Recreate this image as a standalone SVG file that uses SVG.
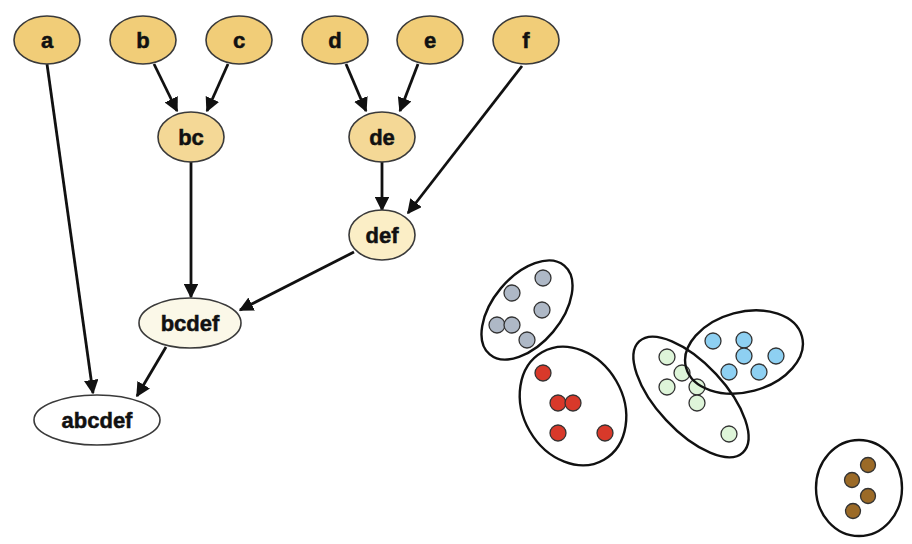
<svg xmlns="http://www.w3.org/2000/svg" width="912" height="544" viewBox="0 0 912 544">
<style>
.n{stroke:#3a3a3a;stroke-width:1.6}
.l{font-family:"Liberation Sans",Arial,sans-serif;font-weight:bold;font-size:22px;fill:#111;stroke:#111;stroke-width:0.5;text-anchor:middle;dominant-baseline:central}
.e{stroke:#111;stroke-width:2.8;fill:none}
.cl{fill:none;stroke:#111;stroke-width:2.4}
.d{stroke:#333;stroke-width:1.3}
.g{fill:#aeb8c6}.r{fill:#d8392a}.gr{fill:#def5d9}.b{fill:#8ed0f2}.br{fill:#9b6a27}
</style>
<defs>
<marker id="ah" viewBox="0 0 10 10" refX="9" refY="5" markerWidth="5.2" markerHeight="5.2" orient="auto" markerUnits="strokeWidth">
<path d="M0,0 L10,5 L0,10 z" fill="#111"/>
</marker>
</defs>
<rect width="912" height="544" fill="#fff"/>
<g id="connectors">
<line class="e" x1="47" y1="64" x2="93" y2="393" marker-end="url(#ah)"/>
<line class="e" x1="154" y1="64" x2="177" y2="111" marker-end="url(#ah)"/>
<line class="e" x1="228" y1="64" x2="207" y2="111" marker-end="url(#ah)"/>
<line class="e" x1="346" y1="64" x2="366" y2="111" marker-end="url(#ah)"/>
<line class="e" x1="418" y1="64" x2="400" y2="111" marker-end="url(#ah)"/>
<line class="e" x1="382" y1="162" x2="382" y2="210" marker-end="url(#ah)"/>
<line class="e" x1="522" y1="66" x2="408" y2="213" marker-end="url(#ah)"/>
<line class="e" x1="191" y1="162" x2="191" y2="297" marker-end="url(#ah)"/>
<line class="e" x1="354" y1="252" x2="240" y2="310" marker-end="url(#ah)"/>
<line class="e" x1="166" y1="347" x2="137" y2="396" marker-end="url(#ah)"/>
</g>
<g id="a"><ellipse class="n" cx="47" cy="40" rx="33" ry="24" fill="#f1cd78"/><text class="l" x="47" y="40">a</text></g>
<g id="b"><ellipse class="n" cx="143" cy="40" rx="33" ry="24" fill="#f1cd78"/><text class="l" x="143" y="40">b</text></g>
<g id="c"><ellipse class="n" cx="239" cy="40" rx="33" ry="24" fill="#f1cd78"/><text class="l" x="239" y="40">c</text></g>
<g id="d"><ellipse class="n" cx="335" cy="40" rx="33" ry="24" fill="#f1cd78"/><text class="l" x="335" y="40">d</text></g>
<g id="e"><ellipse class="n" cx="430" cy="40" rx="33" ry="24" fill="#f1cd78"/><text class="l" x="430" y="40">e</text></g>
<g id="f"><ellipse class="n" cx="526" cy="40" rx="33" ry="24" fill="#f1cd78"/><text class="l" x="526" y="40">f</text></g>
<g id="bc"><ellipse class="n" cx="191" cy="137" rx="33" ry="25" fill="#f4d896"/><text class="l" x="191" y="137">bc</text></g>
<g id="de"><ellipse class="n" cx="382" cy="137" rx="33" ry="25" fill="#f4d896"/><text class="l" x="382" y="137">de</text></g>
<g id="def"><ellipse class="n" cx="382" cy="235" rx="33" ry="25" fill="#fbeec6"/><text class="l" x="382" y="235">def</text></g>
<g id="bcdef"><ellipse class="n" cx="190" cy="323" rx="51" ry="25" fill="#fbf8e8"/><text class="l" x="190" y="323">bcdef</text></g>
<g id="abcdef"><ellipse class="n" cx="97" cy="420" rx="63" ry="25" fill="#fff"/><text class="l" x="97" y="420">abcdef</text></g>
<g id="clusters">
<ellipse class="cl" cx="527" cy="310" rx="58" ry="34" transform="rotate(-50 527 310)"/>
<circle class="d g" cx="543" cy="278" r="8"/><circle class="d g" cx="512" cy="293" r="8"/><circle class="d g" cx="542" cy="310" r="8"/><circle class="d g" cx="497" cy="325" r="8"/><circle class="d g" cx="512" cy="325" r="8"/><circle class="d g" cx="527" cy="340" r="8"/>
<ellipse class="cl" cx="573" cy="406" rx="50" ry="62" transform="rotate(-30 573 406)"/>
<circle class="d r" cx="543" cy="373" r="8"/><circle class="d r" cx="558" cy="403" r="8"/><circle class="d r" cx="573" cy="403" r="8"/><circle class="d r" cx="558" cy="433" r="8"/><circle class="d r" cx="605" cy="433" r="8"/>
<ellipse class="cl" cx="691" cy="397" rx="76" ry="34" transform="rotate(47 691 397)"/>
<circle class="d gr" cx="667" cy="357" r="8"/><circle class="d gr" cx="682" cy="373" r="8"/><circle class="d gr" cx="667" cy="387" r="8"/><circle class="d gr" cx="697" cy="387" r="8"/><circle class="d gr" cx="697" cy="403" r="8"/><circle class="d gr" cx="729" cy="434" r="8"/>
<ellipse class="cl" cx="744" cy="352" rx="60" ry="40" transform="rotate(-15 744 352)"/>
<circle class="d b" cx="713" cy="341" r="8"/><circle class="d b" cx="744" cy="340" r="8"/><circle class="d b" cx="744" cy="356" r="8"/><circle class="d b" cx="776" cy="356" r="8"/><circle class="d b" cx="729" cy="372" r="8"/><circle class="d b" cx="759" cy="372" r="8"/>
<ellipse class="cl" cx="859" cy="488" rx="43" ry="48"/>
<circle class="d br" cx="868" cy="465" r="7.5"/><circle class="d br" cx="852" cy="480" r="7.5"/><circle class="d br" cx="868" cy="496" r="7.5"/><circle class="d br" cx="853" cy="511" r="7.5"/>
</g>
</svg>
